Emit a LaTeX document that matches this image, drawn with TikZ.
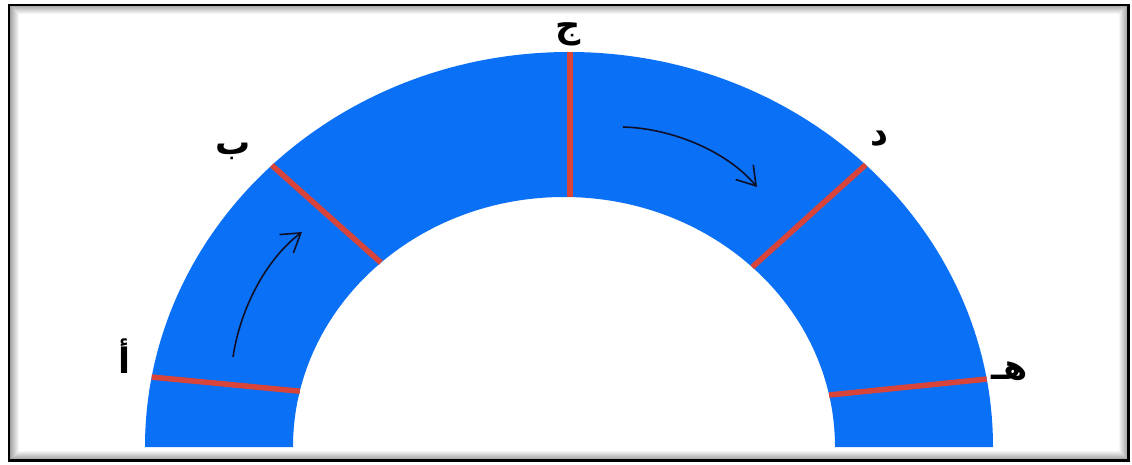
\documentclass[tikz,border=0pt]{standalone}
\usepackage{fontspec}
\newfontfamily\arabicfont[Script=Arabic]{DejaVu Sans}
\TeXXeTstate=1
\usetikzlibrary{arrows.meta}
\definecolor{archblue}{RGB}{10,112,246}
\definecolor{cutred}{RGB}{216,68,58}
\definecolor{arrowink}{RGB}{15,15,40}
\tikzset{
  cutline/.style={draw=cutred,line width=5.5pt},
  flowarrow/.style={draw=arrowink,line width=1.6pt,-{Straight Barb[length=18pt,width=23pt,line width=1.6pt]}},
  letter/.style={font=\arabicfont\bfseries\fontsize{35}{40}\selectfont,inner sep=0pt,text=black}
}
\begin{document}
\begin{tikzpicture}[x=1pt,y=1pt]
\useasboundingbox (0,0) rectangle (1132,464);
\fill[white] (0,0) rectangle (1132,464);
% frame with inner shadow
\foreach \i in {1,...,9}{
  \draw[black,opacity={0.4*(1-\i/10)},line width=1pt] (9+\i,3.5+\i) rectangle (1128.5-\i,459-\i);
}
\draw[black,line width=2.5pt] (9,3.5) rectangle (1128.5,459);
% arch
\fill[archblue] (145,17) arc[start angle=180,end angle=0,x radius=424,y radius=395]
  -- (835,17) arc[start angle=0,end angle=180,x radius=271,y radius=250] -- cycle;
% cut points
\coordinate (aO) at ([shift={(569,17)}]169.8:424 and 395);
\coordinate (aI) at ([shift={(564,17)}]167.1:271 and 250);
\coordinate (bO) at ([shift={(569,17)}]134.5:424 and 395);
\coordinate (bI) at ([shift={(564,17)}]132.5:271 and 250);
\coordinate (cO) at (570,412);
\coordinate (cI) at (570,267);
\coordinate (dO) at ([shift={(569,17)}]45.6:424 and 395);
\coordinate (dI) at ([shift={(564,17)}]46.0:271 and 250);
\coordinate (eO) at ([shift={(569,17)}]9.9:424 and 395);
\coordinate (eI) at ([shift={(564,17)}]12.0:271 and 250);
\draw[cutline] (aO) -- (aI);
\draw[cutline] (bO) -- (bI);
\draw[cutline] (cO) -- (cI);
\draw[cutline] (dO) -- (dI);
\draw[cutline] (eO) -- (eI);
% labels
\node[letter] (la) at (124,108) {\beginR أ\endR};
\node[letter] (lb) at (233,313) {\beginR ب\endR};
\node[letter] (lc) at (568,430) {\beginR ج\endR};
\node[letter] (ld) at (879,325) {\beginR د\endR};
\node[letter] (le) at (1010,93) {\beginR هـ\endR};
% arrows
\coordinate (s1) at (233,107);
\coordinate (t1) at (302,232);
\coordinate (s2) at (623,337);
\coordinate (t2) at (757,277);
\draw[flowarrow] (s1) .. controls (240,154) and (265,204) .. (t1);
\draw[flowarrow] (s2) .. controls (668,336) and (725,315) .. (t2);
\end{tikzpicture}
\end{document}
